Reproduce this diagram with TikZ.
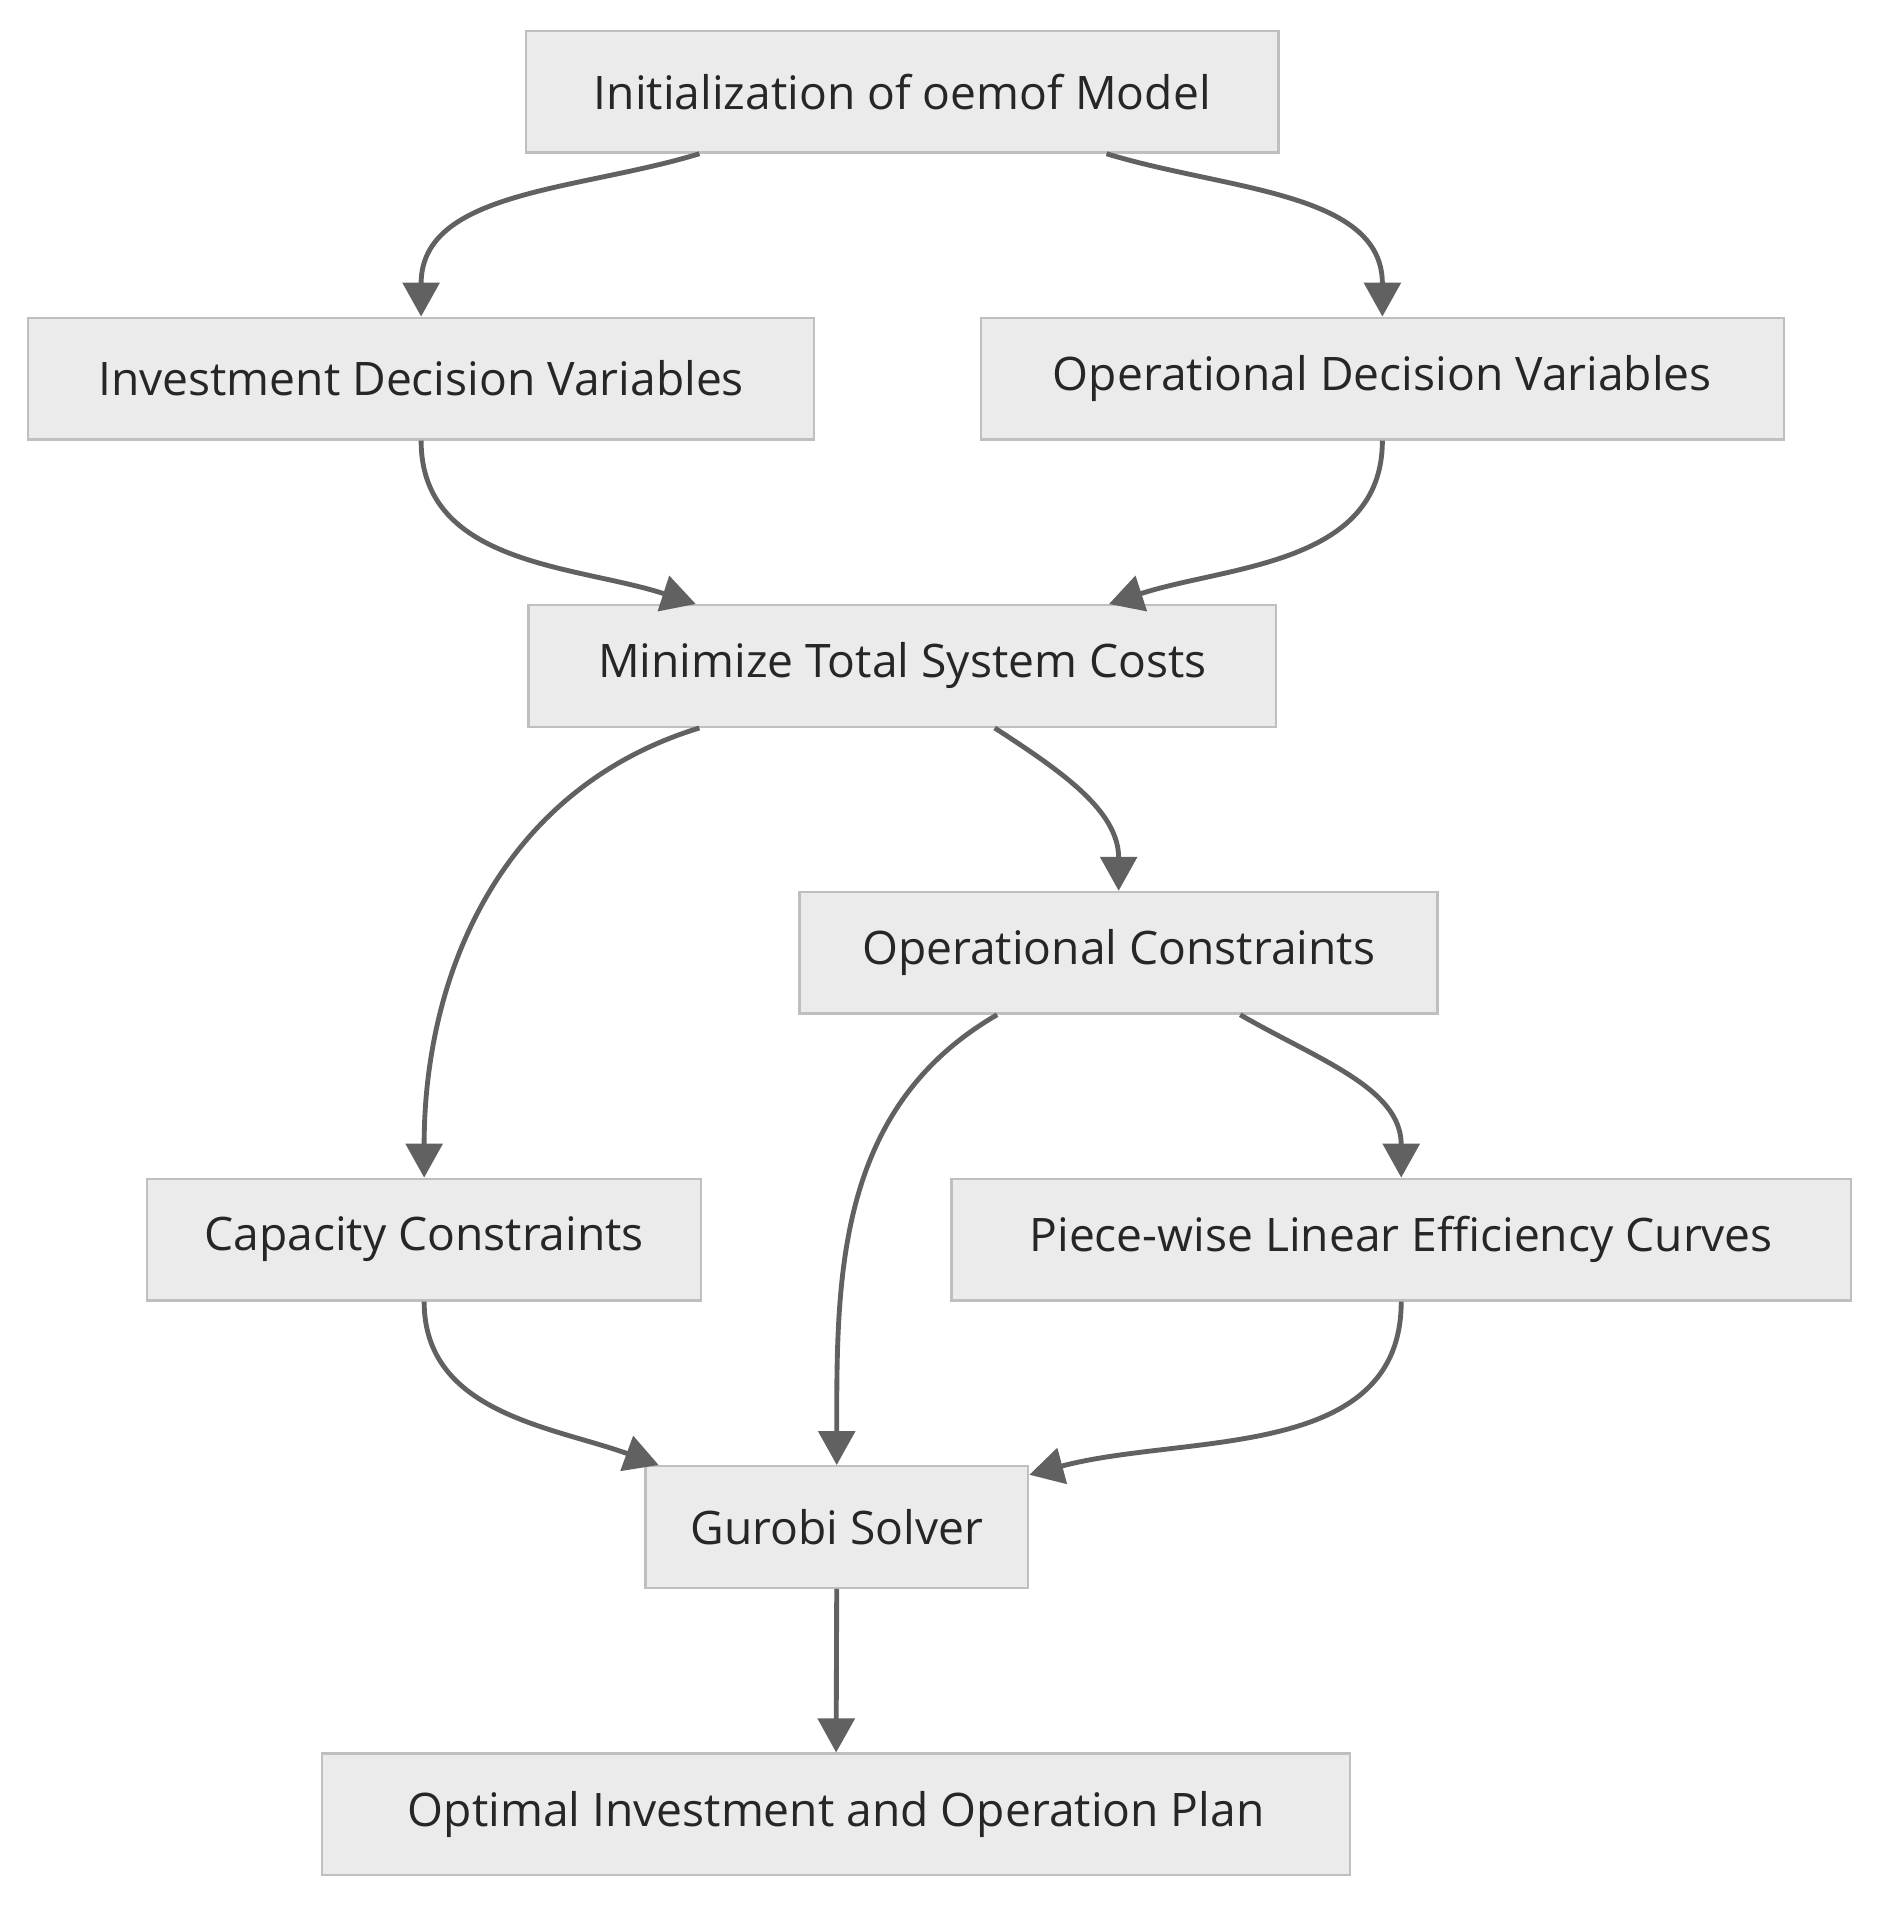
\documentclass[tikz,border=0pt]{standalone}
\usepackage{fontspec}
\setmainfont{Open Sans}
\usetikzlibrary{arrows.meta,calc}
\begin{document}
\begin{tikzpicture}[x=0.5pt,y=0.5pt,
  box/.style={draw=black!25,fill=black!8,line width=1pt,inner sep=0pt,minimum height=50pt,font=\fontsize{19}{22}\selectfont,text=black!85},
  arr/.style={draw=black!62,line width=2pt,-{Triangle[length=14pt,width=15pt]}}]
\useasboundingbox (0,0) rectangle (1560,-1584);
\node[box,minimum width=309.5pt] (init) at (742.5,-75.5) {Initialization of oemof Model};
\node[box,minimum width=323.5pt] (inv) at (346.5,-311.5) {Investment Decision Variables};
\node[box,minimum width=330.5pt] (opd) at (1137.5,-311.5) {Operational Decision Variables};
\node[box,minimum width=307.5pt] (min) at (742.5,-548) {Minimize Total System Costs};
\node[box,minimum width=262.5pt] (opc) at (920.5,-784) {Operational Constraints};
\node[box,minimum width=228pt] (cap) at (349,-1020) {Capacity Constraints};
\node[box,minimum width=370pt] (pw) at (1153,-1020) {Piece-wise Linear Efficiency Curves};
\node[box,minimum width=157.5pt] (gur) at (688.5,-1256.5) {Gurobi Solver};
\node[box,minimum width=423pt] (opt) at (688,-1493) {Optimal Investment and Operation Plan};
\draw[arr] ($(init.south)+(-167,0)$) to[out=197,in=90] (inv.north);
\draw[arr] ($(init.south)+(168,0)$) to[out=-17,in=90] (opd.north);
\draw[arr] (inv.south) to[out=-90,in=162] ($(min.north)+(-170,0)$);
\draw[arr] (opd.south) to[out=-90,in=18] ($(min.north)+(170,0)$);
\draw[arr] ($(min.south)+(-167,0)$) to[out=197,in=90] (cap.north);
\draw[arr] ($(min.south)+(76,0)$) to[out=-33,in=90] (opc.north);
\draw[arr] ($(opc.south)+(-100,0)$) to[out=210,in=90] (gur.north);
\draw[arr] ($(opc.south)+(100,0)$) to[out=-30,in=90] (pw.north);
\draw[arr] (cap.south) to[out=-90,in=160] ($(gur.north west)+(12,0)$);
\draw[arr] (pw.south) to[out=-90,in=15] ($(gur.north east)+(0,-8)$);
\draw[arr] (gur.south) -- (opt.north);
\end{tikzpicture}
\end{document}
